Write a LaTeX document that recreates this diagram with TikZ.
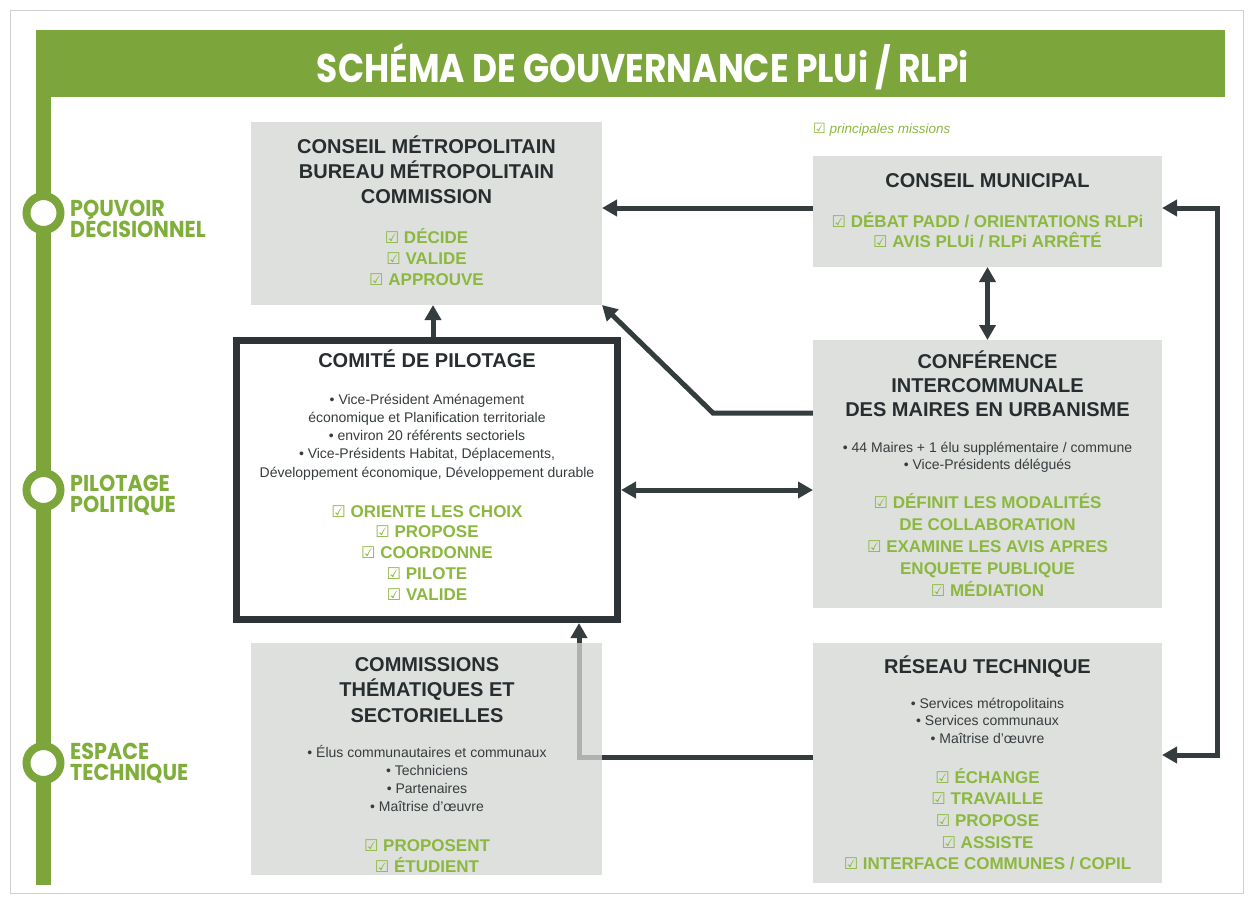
\documentclass[tikz,border=0pt]{standalone}
\usepackage{fontspec}
\setmainfont{Liberation Sans}
\newfontfamily\symfont{DejaVu Sans}
\newfontfamily\titlefont[FakeStretch=0.86]{Poppins}
\newfontfamily\labfont[FakeStretch=0.9]{Poppins}
\usetikzlibrary{arrows.meta,calc}
\definecolor{barG}{RGB}{124,166,60}
\definecolor{labG}{RGB}{128,174,58}
\definecolor{greenT}{RGB}{140,184,64}
\definecolor{darkT}{RGB}{40,45,48}
\definecolor{itemT}{RGB}{55,60,62}
\definecolor{connC}{RGB}{52,60,62}
\definecolor{frameC}{RGB}{45,51,54}
\definecolor{boxG}{RGB}{221,224,221}
\pgfdeclarelayer{bg}\pgfdeclarelayer{mid}\pgfsetlayers{bg,mid,main}
\newcommand\ck{{\symfont\scalebox{0.95}{☑}}}
\newcommand\stack[6]{\foreach \t [count=\i from 0] in {#6}{\node[#5] (#1\i) at (#2,{#3+\i*#4}) {\t};}}
\newcommand\twol[3]{\vtop{\baselineskip=#3\lineskiplimit=-100pt\lineskip=0pt\hbox{#1}\hbox{#2}}}
\tikzset{
  box/.style={draw=none, fill=boxG, inner sep=0pt, outer sep=0pt},
  ttl/.style={font=\fontsize{20}{24}\selectfont\bfseries, text=darkT, inner sep=0pt, anchor=base},
  itm/.style={font=\fontsize{14}{17}\selectfont, text=itemT, inner sep=0pt, anchor=base},
  grn/.style={font=\fontsize{17}{20}\selectfont\bfseries, text=greenT, inner sep=0pt, anchor=base},
  lab/.style={font=\labfont\fontsize{23}{26}\selectfont\bfseries, text=labG, inner sep=0pt, anchor=base west},
  conn/.style={draw=connC, line width=5pt},
}
\begin{document}
\begin{tikzpicture}[x=1pt,y=-1pt,>={Triangle[length=15pt,width=16pt]}]
\useasboundingbox (0,0) rectangle (1252,900);
% faint scan frame
\draw[black!18, line width=1pt] (10,10) rectangle (1243,893);
% green bars
\fill[barG] (36,30) rectangle (1225,97);
\fill[barG] (36,30) rectangle (51,885);
\node[font=\titlefont\fontsize{40}{44}\selectfont\bfseries, text=white, inner sep=0pt, anchor=base] (title) at (643,82) {SCHÉMA DE GOUVERNANCE PLUi / RLPi};
% level rings
\draw[barG, line width=8pt, fill=white] (43.5,213) circle[radius=17pt];
\draw[barG, line width=8pt, fill=white] (43.5,490) circle[radius=17pt];
\draw[barG, line width=8pt, fill=white] (43.5,763) circle[radius=17pt];
\node[lab] (labA) at (70,216) {\twol{POUVOIR}{DÉCISIONNEL}{21pt}};
\node[lab] (labB) at (70,491) {\twol{PILOTAGE}{POLITIQUE}{21pt}};
\node[lab] (labC) at (70,759) {\twol{ESPACE}{TECHNIQUE}{21pt}};
% legend
\node[font=\fontsize{13.5}{16}\selectfont\itshape, text=greenT, inner sep=0pt, anchor=base west] (legend) at (813,133) {{\symfont\scalebox{1.05}{☑}}\ principales missions};

% boxes
\node[box, minimum width=351pt, minimum height=183pt] (met) at (426.5,213.5) {};
\node[box, minimum width=349pt, minimum height=111pt] (mun) at (987.5,211.5) {};
\node[box, minimum width=349pt, minimum height=268pt] (conf) at (987.5,474) {};
\node[draw=frameC, line width=7pt, fill=white, minimum width=381pt, minimum height=279pt, inner sep=0pt, outer sep=3.5pt] (copil) at (427,480) {};
\node[box, fill opacity=0.72, minimum width=351pt, minimum height=232pt] (com) at (426.5,759) {};
\node[box, minimum width=349pt, minimum height=240pt] (res) at (987.5,763) {};
\begin{pgfonlayer}{bg}
\fill[boxG] (com.south west) rectangle (com.north east);
\end{pgfonlayer}

% texts
\stack{metT}{426.5}{153}{25}{ttl}{CONSEIL MÉTROPOLITAIN,BUREAU MÉTROPOLITAIN,COMMISSION}
\stack{metG}{426.5}{243}{21}{grn}{\ck\ DÉCIDE,\ck\ VALIDE,\ck\ APPROUVE}

\stack{munT}{987.5}{187}{20}{ttl}{CONSEIL MUNICIPAL}
\stack{munG}{987.5}{227}{20}{grn}{\ck\ DÉBAT PADD / ORIENTATIONS RLPi,\ck\ AVIS PLUi / RLPi ARRÊTÉ}

\stack{confT}{987.5}{368}{24}{ttl}{CONFÉRENCE,INTERCOMMUNALE,DES MAIRES EN URBANISME}
\stack{confI}{987.5}{452}{17}{itm}{• 44 Maires + 1 élu supplémentaire / commune,• Vice-Présidents délégués}
\stack{confG}{987.5}{508}{22.2}{grn}{\ck\ DÉFINIT LES MODALITÉS,DE COLLABORATION,\ck\ EXAMINE LES AVIS APRES,ENQUETE PUBLIQUE,\ck\ MÉDIATION}

\stack{copT}{427}{367}{24}{ttl}{COMITÉ DE PILOTAGE}
\stack{copI}{427}{404}{18.3}{itm}{• Vice-Président Aménagement,économique et Planification territoriale,• environ 20 référents sectoriels,{• Vice-Présidents Habitat, Déplacements,},{Développement économique, Développement durable}}
\stack{copG}{427}{517}{20.8}{grn}{\ck\ ORIENTE LES CHOIX,\ck\ PROPOSE,\ck\ COORDONNE,\ck\ PILOTE,\ck\ VALIDE}

\stack{comT}{427}{671}{25.5}{ttl}{COMMISSIONS,THÉMATIQUES ET,SECTORIELLES}
\stack{comI}{427}{757}{18.3}{itm}{• Élus communautaires et communaux,• Techniciens,• Partenaires,• Maîtrise d’œuvre}
\stack{comG}{427}{851}{21}{grn}{\ck\ PROPOSENT,\ck\ ÉTUDIENT}

\stack{resT}{987.5}{673}{20}{ttl}{RÉSEAU TECHNIQUE}
\stack{resI}{987.5}{708}{17.5}{itm}{• Services métropolitains,• Services communaux,• Maîtrise d’œuvre}
\stack{resG}{987.5}{783}{21.7}{grn}{\ck\ ÉCHANGE,\ck\ TRAVAILLE,\ck\ PROPOSE,\ck\ ASSISTE,\ck\ INTERFACE COMMUNES / COPIL}

% connectors
\coordinate (p1) at ([yshift=3.5pt]mun.west);
\coordinate (p2) at ([yshift=3.5pt]mun.east);
\coordinate (p3) at ([yshift=8pt]res.east);
\coordinate (rl) at (1217,0);
\coordinate (p4) at ([xshift=6pt]copil.north);
\coordinate (p5) at ([yshift=-10pt]copil.east);
\coordinate (p6) at ([yshift=61pt]conf.west);
\coordinate (kn) at (713,413);
\coordinate (p7) at ([yshift=6pt]res.west);
\coordinate (kc) at (579,0);
\begin{pgfonlayer}{mid}
\draw[conn,->] (p1) -- (p1 -| met.east);
\draw[conn,<->] (p2) -- (p2 -| rl) -- (p3 -| rl) -- (p3);
\draw[conn,<->] (mun.south) -- (conf.north);
\draw[conn,->] (p4) -- (p4 |- met.south);
\draw[conn,<->] (p5) -- (p5 -| conf.west);
\draw[conn,->] (p6) -- (kn) -- (met.south east);
\draw[conn,->] (p7) -- (p7 -| kc) -- (kc |- copil.south);
\end{pgfonlayer}
\end{tikzpicture}
\end{document}
